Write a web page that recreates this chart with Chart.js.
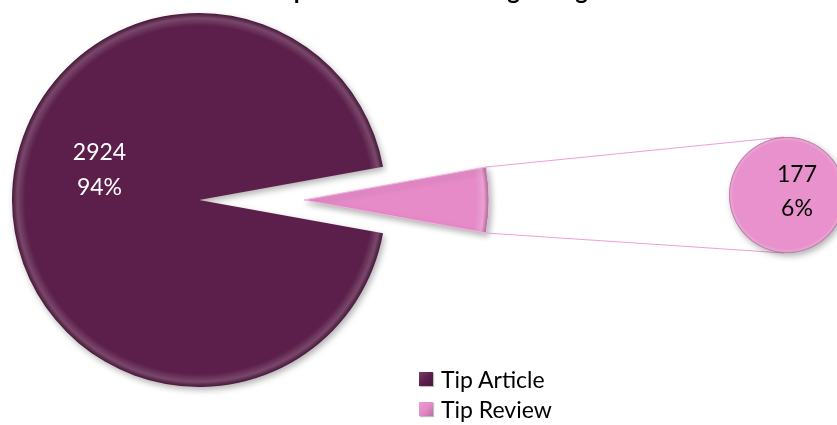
<!DOCTYPE html>
<html>
<head>
<meta charset="utf-8">
<script src="https://cdn.jsdelivr.net/npm/chart.js@4.4.1/dist/chart.umd.min.js"></script>
<style>
  html, body { margin: 0; padding: 0; background: #ffffff; overflow: hidden; }
  #wrap { position: relative; width: 837px; height: 425px; overflow: hidden; }
  canvas { position: absolute; left: 0; top: 0; }
  #title { position: absolute; left: 0; width: 837px; top: -24px; text-align: center;
           font: bold 24px Lato, "DejaVu Sans", sans-serif; line-height: 28px; color: #000; white-space: nowrap; }
  #legend { position: absolute; left: 419px; top: 364px; font: 23px Lato, "DejaVu Sans", sans-serif; color: #000; }
  #legend .row { height: 30px; display: flex; align-items: center; }
  #legend .box { width: 14px; height: 14px; margin-right: 8px; box-sizing: border-box; flex: none;
                 box-shadow: 1px 1px 1px rgba(0,0,0,0.25); }
</style>
</head>
<body>
<div id="wrap">
  <canvas id="c1" width="837" height="425"></canvas>
  <canvas id="c2" width="837" height="425"></canvas>
  <canvas id="c3" width="837" height="425"></canvas>
  <div id="title"></div>
  <div id="legend"></div>
</div>
<script>
// ---- data ----
const titleText = 'Article Tip Distribution among Categories';
const categories = ['Tip Article', 'Tip Review'];
const counts = [2924, 177];
const colors = ['#5C1F4B', '#E68BC8'];
const secondCategories = ['Tip Review'];
const secondCounts = [177];

const total = counts.reduce((a, b) => a + b, 0);
const pct = v => Math.round(v / total * 100) + '%';

// ---- style ----
const FONT = 'Lato, "DejaVu Sans", sans-serif';
const MAIN_R = 187, WEDGE_R = 185, SMALL_R = 58;
// rotate so that the small slice is centred on the 3 o'clock direction
const rotation = 90 + 180 * counts[1] / total;
const TRANSPARENT = 'rgba(0,0,0,0)';

function shade(hex, f) {
  const n = parseInt(hex.slice(1), 16);
  const r = (n >> 16) & 255, g = (n >> 8) & 255, b = n & 255;
  const m = c => Math.max(0, Math.min(255, Math.round(f >= 0 ? c + (255 - c) * f : c * (1 + f))));
  return `rgb(${m(r)},${m(g)},${m(b)})`;
}

// visible: array of booleans per slice; returns a scriptable option
function bevelFill(base, radius, visible) {
  return (ctx) => {
    if (visible && !visible[ctx.dataIndex]) return TRANSPARENT;
    const chart = ctx.chart, a = chart.chartArea;
    if (!a) return base;
    const cx = (a.left + a.right) / 2, cy = (a.top + a.bottom) / 2;
    const g = chart.ctx.createRadialGradient(cx, cy, 0, cx, cy, radius);
    g.addColorStop(0, base);
    g.addColorStop(0.93, base);
    g.addColorStop(0.972, shade(base, 0.18));
    g.addColorStop(1, shade(base, -0.25));
    return g;
  };
}

const shadowPlugin = {
  id: 'softShadow',
  beforeDatasetsDraw(chart) {
    const c = chart.ctx; c.save();
    c.shadowColor = 'rgba(0,0,0,0.3)'; c.shadowBlur = 6; c.shadowOffsetX = 2; c.shadowOffsetY = 3;
  },
  afterDatasetsDraw(chart) { chart.ctx.restore(); }
};

// anchor: 'centroid' (slice centroid) or 'center' (pie centre)
function labelPlugin(lines, color, index, anchor, dx, dy, lineGap) {
  return {
    id: 'sliceLabel',
    afterDatasetsDraw(chart) {
      const el = chart.getDatasetMeta(0).data[index];
      if (!el) return;
      const p = anchor === 'center' ? {x: el.x, y: el.y} : el.tooltipPosition();
      const c = chart.ctx;
      c.save();
      c.font = '23px ' + FONT;
      c.fillStyle = color;
      c.textAlign = 'center';
      c.textBaseline = 'middle';
      const x = p.x + dx, y = p.y + dy;
      lines.forEach((t, i) => c.fillText(t, x, y + (i - (lines.length - 1) / 2) * lineGap));
      c.restore();
    }
  };
}

const common = {
  responsive: false,
  animation: false,
  events: [],
  plugins: { legend: { display: false }, title: { display: false }, tooltip: { enabled: false } }
};

// ---- main pie (large slice) ----
const chartMain = new Chart(document.getElementById('c1'), {
  type: 'pie',
  data: {
    labels: categories,
    datasets: [{
      data: counts,
      backgroundColor: bevelFill(colors[0], MAIN_R, [true, false]),
      borderWidth: 0,
      radius: MAIN_R
    }]
  },
  options: Object.assign({}, common, {
    rotation: rotation,
    layout: { padding: { left: 0, top: 0, right: 837 - 398, bottom: 425 - 400 } }
  }),
  plugins: [shadowPlugin, labelPlugin([String(counts[0]), pct(counts[0])], '#ffffff', 0, 'centroid', -6, -30, 35)]
});

// ---- exploded small slice ----
const chartWedge = new Chart(document.getElementById('c2'), {
  type: 'pie',
  data: {
    labels: categories,
    datasets: [{
      data: counts,
      backgroundColor: bevelFill(colors[1], WEDGE_R, [false, true]),
      borderColor: (ctx) => ctx.dataIndex === 1 ? '#F3B2DF' : TRANSPARENT,
      borderWidth: (ctx) => ctx.dataIndex === 1 ? 1 : 0,
      radius: WEDGE_R
    }]
  },
  options: Object.assign({}, common, {
    rotation: rotation,
    layout: { padding: { left: 0, top: 0, right: 837 - 608, bottom: 425 - 400 } }
  }),
  plugins: [shadowPlugin]
});

// ---- secondary pie + connector lines ----
const connectorPlugin = {
  id: 'connectors',
  beforeDatasetsDraw(chart) {
    const w = chartWedge.getDatasetMeta(0).data[1];
    const s = chart.getDatasetMeta(0).data[0];
    if (!w || !s) return;
    const c = chart.ctx;
    const ax = w.x + w.outerRadius * Math.cos(w.startAngle), ay = w.y + w.outerRadius * Math.sin(w.startAngle);
    const bx = w.x + w.outerRadius * Math.cos(w.endAngle), by = w.y + w.outerRadius * Math.sin(w.endAngle);
    c.save();
    c.strokeStyle = '#EC9FD6';
    c.lineWidth = 1.2;
    c.beginPath();
    c.moveTo(ax, ay); c.lineTo(s.x - 3, s.y - s.outerRadius);
    c.moveTo(bx, by); c.lineTo(s.x - 3, s.y + s.outerRadius);
    c.stroke();
    c.restore();
  }
};

const chartSecond = new Chart(document.getElementById('c3'), {
  type: 'pie',
  data: {
    labels: secondCategories,
    datasets: [{
      data: secondCounts,
      backgroundColor: bevelFill('#E891CC', SMALL_R),
      borderWidth: 0,
      radius: SMALL_R
    }]
  },
  options: Object.assign({}, common, {
    layout: { padding: { left: 737, top: 0, right: 0, bottom: 425 - 390 } }
  }),
  plugins: [connectorPlugin, shadowPlugin, labelPlugin([String(secondCounts[0]), pct(secondCounts[0])], '#000000', 0, 'center', 10, -3, 34)]
});

// ---- title & legend (text) ----
document.getElementById('title').textContent = titleText;
const lg = document.getElementById('legend');
categories.forEach((name, i) => {
  const row = document.createElement('div');
  row.className = 'row';
  const box = document.createElement('span');
  box.className = 'box';
  box.style.background = `linear-gradient(135deg, ${shade(colors[i], 0.15)}, ${colors[i]} 50%, ${shade(colors[i], -0.2)})`;
  const txt = document.createElement('span');
  txt.textContent = name;
  row.appendChild(box); row.appendChild(txt);
  lg.appendChild(row);
});
</script>
</body>
</html>
